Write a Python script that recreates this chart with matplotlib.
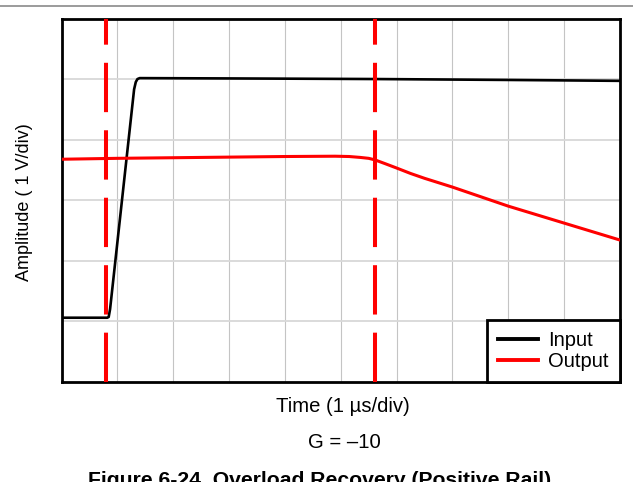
import matplotlib
matplotlib.use("Agg")
import matplotlib.pyplot as plt
from matplotlib.lines import Line2D

plt.rcParams['font.family'] = ['Liberation Sans', 'DejaVu Sans']

# ---- data (time in divisions, amplitude in divisions) ----
input_t = [0.0, 0.82, 0.845, 0.87, 1.30, 1.33, 1.36, 1.40, 3.0, 5.6, 8.0, 10.0]
input_v = [1.057, 1.057, 1.07, 1.20, 4.83, 4.95, 5.00, 5.015, 5.01, 5.0, 4.985, 4.97]

output_t = [0.0, 1.0, 2.0, 3.0, 4.0, 4.9, 5.15, 5.35, 5.5, 5.61, 5.8, 6.0, 6.25, 6.5, 7.0, 8.0, 9.0, 10.0]
output_v = [3.675, 3.69, 3.70, 3.71, 3.72, 3.725, 3.72, 3.705, 3.69, 3.665, 3.60, 3.53, 3.44, 3.36, 3.215, 2.90, 2.62, 2.34]

marker_t = [0.80, 5.61]

x_divs = 10
y_divs = 6

W, H = 633, 482
fig = plt.figure(figsize=(W / 100, H / 100), dpi=100)
ax = fig.add_axes([61.5 / W, 1 - 381.7 / H, (620 - 61.5) / W, (381.7 - 18.5) / H])

ax.set_xlim(0, x_divs)
ax.set_ylim(0, y_divs)
ax.set_xticks(range(1, x_divs))
ax.set_yticks(range(1, y_divs))
ax.tick_params(length=0, labelbottom=False, labelleft=False)
ax.xaxis.grid(True, color='#c4c4c4', lw=0.8)
ax.yaxis.grid(True, color='#d8d8d8', lw=1.3)
ax.set_axisbelow(True)
for s in ax.spines.values():
    s.set_linewidth(2.0)
    s.set_color('black')

ax.plot(input_t, input_v, color='black', lw=1.9, label='Input', zorder=3,
        solid_joinstyle='round')
ax.plot(output_t, output_v, color='#ff0000', lw=2.2, label='Output', zorder=3,
        solid_joinstyle='round')

for t in marker_t:
    ax.axvline(t, color='#ff0000', lw=2.9, dashes=(12.25, 4.5), zorder=4)

leg = ax.legend(loc='lower right', borderaxespad=0, fontsize=14.5, frameon=True,
                fancybox=False, framealpha=1, edgecolor='black',
                handlelength=2.0, handletextpad=0.5, borderpad=0.55,
                labelspacing=0.1)
leg.get_frame().set_linewidth(2.0)
for h in leg.get_lines():
    h.set_linewidth(2.8)

# top page rule
fig.add_artist(Line2D([0, 1], [1 - 5.7 / H, 1 - 5.7 / H], color='#8a8a8a', lw=1.2))

fig.text(25 / W, 1 - 202 / H, 'Amplitude ( 1 V/div)', rotation=90, ha='center',
         va='center', fontsize=13)
fig.text(343 / W, 1 - 412.3 / H, 'Time (1 µs/div)', ha='center', va='baseline',
         fontsize=14.6)
fig.text(344 / W, 1 - 448.3 / H, 'G = –10', ha='center', va='baseline', fontsize=14.6)
fig.text(320 / W, 1 - 486 / H, 'Figure 6-24. Overload Recovery (Positive Rail)',
         ha='center', va='baseline', fontsize=15.2, fontweight='bold')

fig.savefig('out.png', dpi=100)
